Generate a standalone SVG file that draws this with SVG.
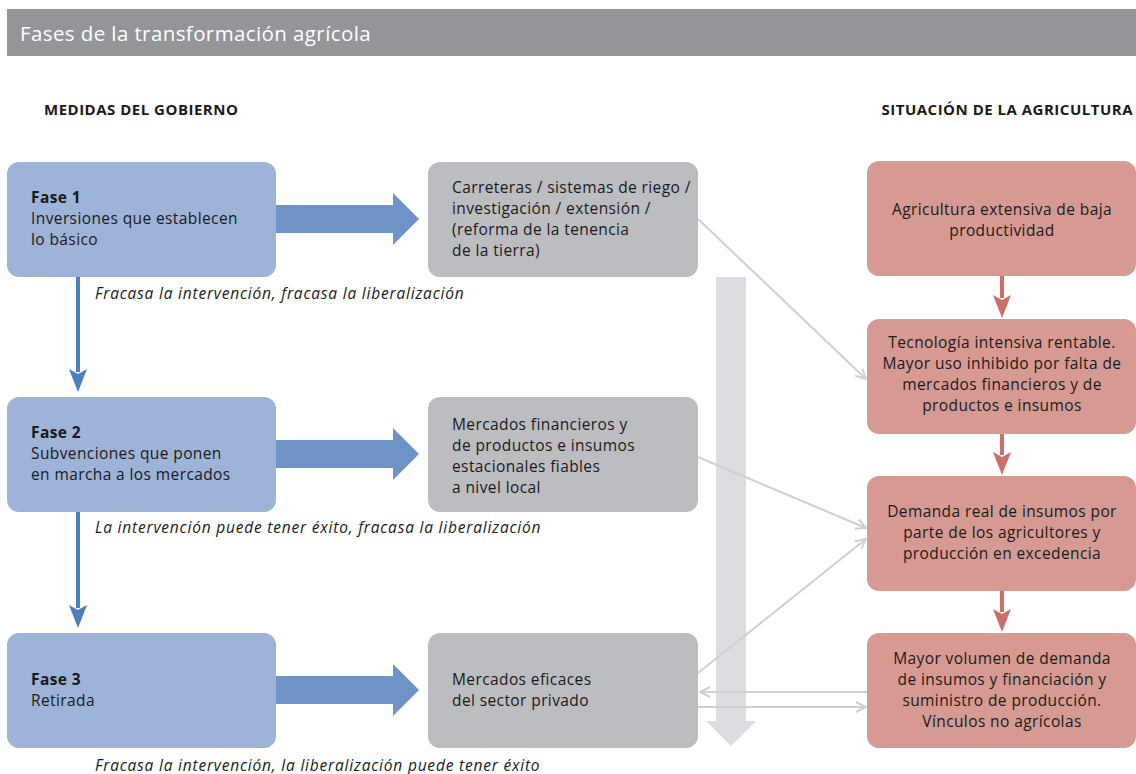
<svg xmlns="http://www.w3.org/2000/svg" width="1136" height="774" viewBox="0 0 1136 774">
<style>
text{font-family:"Open Sans","Noto Sans","Liberation Sans",sans-serif;fill:#1a1a1a}
.t{font-size:15.5px;letter-spacing:0.4px}
.b{font-weight:bold}
.i{font-style:italic;font-size:15.5px;letter-spacing:0.8px}
.c{text-anchor:middle}
.hd{font-size:15px;font-weight:bold;letter-spacing:0.5px}
.blue{fill:#9eb3d8}
.gray{fill:#bcbdc0}
.pink{fill:#d69a93}
.thin{stroke:#cfd0d2;stroke-width:2;fill:none}
</style>
<defs>
<marker id="open" viewBox="0 0 12 12" refX="11" refY="6" markerWidth="12" markerHeight="12" markerUnits="userSpaceOnUse" orient="auto">
<path d="M1,1 L11,6 L1,11" fill="none" stroke="#cfd0d2" stroke-width="2"/>
</marker>
</defs>
<rect x="7" y="9" width="1129" height="47" fill="#939598"/>
<text x="20" y="41" style="font-size:20.5px;letter-spacing:0.4px;fill:#ffffff">Fases de la transformación agrícola</text>
<text x="44" y="115" class="hd">MEDIDAS DEL GOBIERNO</text>
<text x="1133" y="115" class="hd" text-anchor="end">SITUACIÓN DE LA AGRICULTURA</text>

<g id="bigarrow">
<path d="M716,277 H746 V721 H756 L731,746 L706,721 H716 Z" fill="#dcdde0"/>
</g>

<g id="connectors">
<path d="M698,219 L866,379" class="thin" marker-end="url(#open)"/>
<path d="M698,457 L866,528" class="thin" marker-end="url(#open)"/>
<path d="M698,673 L866,539" class="thin" marker-end="url(#open)"/>
<path d="M868,692 L700,692" class="thin" marker-end="url(#open)"/>
<path d="M698,707 L866,707" class="thin" marker-end="url(#open)"/>
<path d="M276,205 H393 V193 L419,219 L393,245 V233 H276 Z" fill="#6e93c6"/>
<path d="M276,440 H393 V428 L419,454 L393,480 V468 H276 Z" fill="#6e93c6"/>
<path d="M276,676 H393 V664 L419,690 L393,716 V704 H276 Z" fill="#6e93c6"/>
<path d="M78,277 V372" stroke="#4a7fc0" stroke-width="4"/>
<path d="M69,369 L78,392 L87,369 L78,374 Z" fill="#4a7fc0"/>
<path d="M78,512 V608" stroke="#4a7fc0" stroke-width="4"/>
<path d="M69,605 L78,628 L87,605 L78,610 Z" fill="#4a7fc0"/>
<path d="M1002,276 V298" stroke="#c9706a" stroke-width="4"/>
<path d="M993,295 L1002,318 L1011,295 L1002,300 Z" fill="#c9706a"/>
<path d="M1002,434 V455" stroke="#c9706a" stroke-width="4"/>
<path d="M993,452 L1002,475 L1011,452 L1002,457 Z" fill="#c9706a"/>
<path d="M1002,591 V612" stroke="#c9706a" stroke-width="4"/>
<path d="M993,609 L1002,632 L1011,609 L1002,614 Z" fill="#c9706a"/>
</g>

<g id="fase1">
<rect x="7" y="162" width="269" height="115" rx="12" class="blue"/>
<text x="31" y="203" class="t b">Fase 1</text>
<text x="31" y="224" class="t">Inversiones que establecen</text>
<text x="31" y="245" class="t">lo básico</text>
</g>
<g id="fase2">
<rect x="7" y="397" width="269" height="115" rx="12" class="blue"/>
<text x="31" y="438" class="t b">Fase 2</text>
<text x="31" y="459" class="t">Subvenciones que ponen</text>
<text x="31" y="480" class="t">en marcha a los mercados</text>
</g>
<g id="fase3">
<rect x="7" y="633" width="269" height="115" rx="12" class="blue"/>
<text x="31" y="685" class="t b">Fase 3</text>
<text x="31" y="706" class="t">Retirada</text>
</g>

<g id="g1">
<rect x="428" y="162" width="270" height="115" rx="12" class="gray"/>
<text x="452" y="193" class="t">Carreteras / sistemas de riego /</text>
<text x="452" y="214" class="t">investigación / extensión /</text>
<text x="452" y="235" class="t">(reforma de la tenencia</text>
<text x="452" y="256" class="t">de la tierra)</text>
</g>
<g id="g2">
<rect x="428" y="397" width="270" height="115" rx="12" class="gray"/>
<text x="452" y="430" class="t">Mercados financieros y</text>
<text x="452" y="451" class="t">de productos e insumos</text>
<text x="452" y="472" class="t">estacionales fiables</text>
<text x="452" y="493" class="t">a nivel local</text>
</g>
<g id="g3">
<rect x="428" y="633" width="270" height="115" rx="12" class="gray"/>
<text x="452" y="685" class="t">Mercados eficaces</text>
<text x="452" y="706" class="t">del sector privado</text>
</g>

<g id="p1">
<rect x="867" y="161" width="269" height="115" rx="12" class="pink"/>
<text x="1002" y="215" class="t c">Agricultura extensiva de baja</text>
<text x="1002" y="236" class="t c">productividad</text>
</g>
<g id="p2">
<rect x="867" y="319" width="269" height="115" rx="12" class="pink"/>
<text x="1002" y="348" class="t c">Tecnología intensiva rentable.</text>
<text x="1002" y="369" class="t c">Mayor uso inhibido por falta de</text>
<text x="1002" y="390" class="t c">mercados financieros y de</text>
<text x="1002" y="411" class="t c">productos e insumos</text>
</g>
<g id="p3">
<rect x="867" y="476" width="269" height="115" rx="12" class="pink"/>
<text x="1002" y="517" class="t c">Demanda real de insumos por</text>
<text x="1002" y="538" class="t c">parte de los agricultores y</text>
<text x="1002" y="559" class="t c">producción en excedencia</text>
</g>
<g id="p4">
<rect x="867" y="633" width="269" height="115" rx="12" class="pink"/>
<text x="1002" y="664" class="t c">Mayor volumen de demanda</text>
<text x="1002" y="685" class="t c">de insumos y financiación y</text>
<text x="1002" y="706" class="t c">suministro de producción.</text>
<text x="1002" y="727" class="t c">Vínculos no agrícolas</text>
</g>

<g id="labels">
<text x="95" y="299" class="i">Fracasa la intervención, fracasa la liberalización</text>
<text x="95" y="533" class="i">La intervención puede tener éxito, fracasa la liberalización</text>
<text x="95" y="771" class="i">Fracasa la intervención, la liberalización puede tener éxito</text>
</g>
</svg>
